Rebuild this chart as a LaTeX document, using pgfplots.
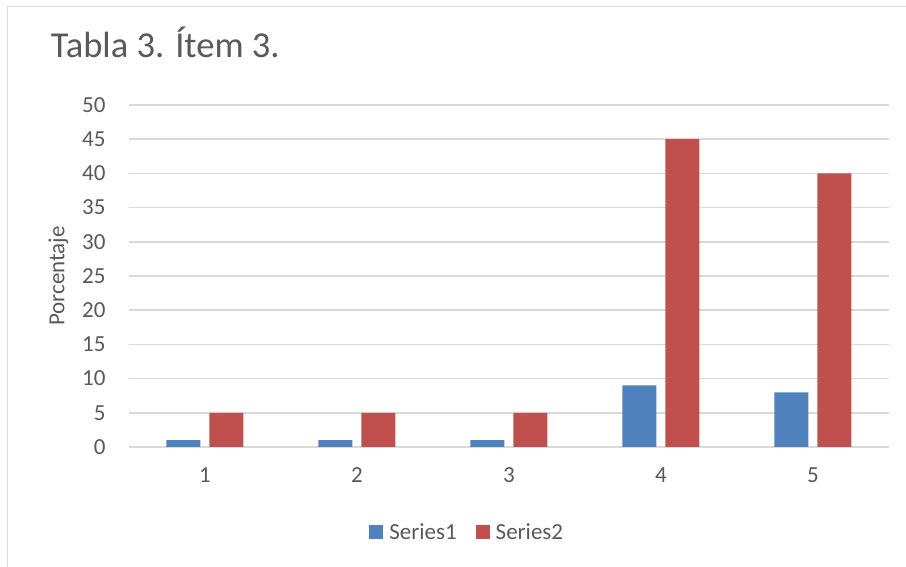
\documentclass[border=0pt]{standalone}
\usepackage{fontspec}
\setmainfont{Carlito}
\usepackage{pgfplots}
\pgfplotsset{compat=1.18}
\usetikzlibrary{calc}
\definecolor{sOne}{HTML}{4F81BD}
\definecolor{sTwo}{HTML}{C0504D}
\definecolor{gridgray}{HTML}{D9D9D9}
\definecolor{txt}{HTML}{595959}
\begin{document}
\begin{tikzpicture}[x=1pt,y=1pt]
\begin{axis}[
  scale only axis, width=760pt, height=342pt,
  ybar=9pt, bar width=34pt,
  xmin=0.5, xmax=5.5, ymin=0, ymax=50,
  xtick={1,2,3,4,5}, ytick={0,5,...,50},
  axis line style={draw=none},
  major tick length=0pt,
  ymajorgrids, xmajorgrids=false,
  grid style={draw=gridgray, line width=1.5pt},
  tick label style={font=\fontsize{23}{26}\selectfont, text=txt},
  /pgf/number format/assume math mode=true,
  yticklabel style={xshift=-20pt},
  xticklabel style={yshift=-17pt},
  title={Tabla 3. Ítem 3.},
  title style={at={(axis description cs:-0.103,1.1228)}, anchor=base west,
    font=\fontsize{36.5}{40}\selectfont, text=txt, inner sep=0pt},
  ylabel={Porcentaje},
  every axis y label/.style={at={(axis description cs:-0.093,0.5)},
    rotate=90, anchor=center, font=\fontsize{23}{26}\selectfont, text=txt},
  legend columns=2,
  legend style={at={(axis description cs:0.445,-0.2485)}, anchor=center,
    draw=none, fill=none, font=\fontsize{23}{26}\selectfont, text=txt,
    /tikz/every even column/.append style={column sep=17pt},
    /tikz/every odd column/.append style={column sep=4pt}},
  legend image code/.code={\fill[#1] (0pt,-7pt) rectangle (14pt,7pt);},
]
\addplot[fill=sOne, draw=none] coordinates {(1,1) (2,1) (3,1) (4,9) (5,8)};
\addlegendentry{Series1}
\addplot[fill=sTwo, draw=none] coordinates {(1,5) (2,5) (3,5) (4,45) (5,40)};
\addlegendentry{Series2}
\coordinate (O) at (axis cs:0.5,0);
\end{axis}
\pgfresetboundingbox
\useasboundingbox ($(O)+(-129,-120)$) rectangle ++(906,567);
\draw[gridgray, line width=1.5pt] ($(O)+(-121.5,-120)$) -- ++(0,560.5) -- ++(898.5,0);
\end{tikzpicture}
\end{document}
